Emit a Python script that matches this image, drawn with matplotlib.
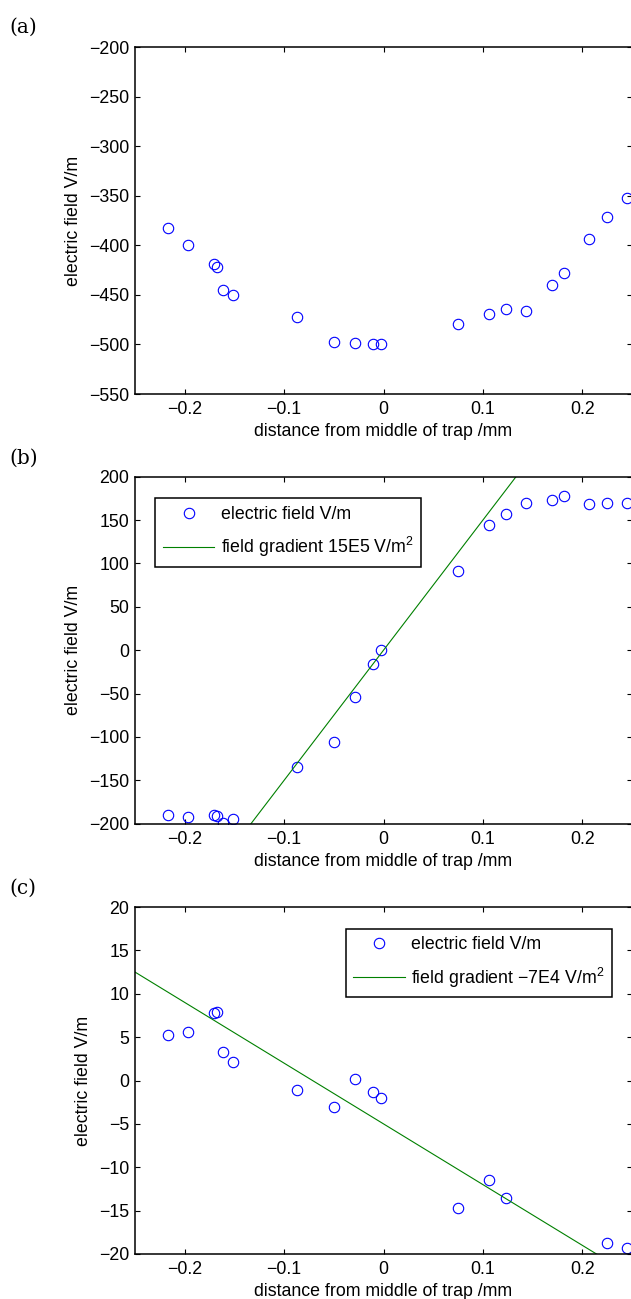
import numpy as np
import matplotlib.pyplot as plt
from matplotlib.ticker import FuncFormatter

plt.rcParams['font.family'] = ['Liberation Sans', 'DejaVu Sans']
plt.rcParams['mathtext.fontset'] = 'custom'
plt.rcParams['mathtext.rm'] = 'Liberation Sans'

# positions of the probe points along the trap (mm)
distance_mm = [-0.2167, -0.1970, -0.1705, -0.1678, -0.1610, -0.1516, -0.0871,
               -0.0500, -0.0286, -0.0103, -0.0022, 0.0748, 0.1060, 0.1234,
               0.1431, 0.1696, 0.1817, 0.2065, 0.2250, 0.2454]

# (a) raw field
field_a = [-382.8, -399.9, -419.0, -421.8, -444.7, -450.4, -472.3, -497.2,
           -498.9, -499.2, -499.2, -479.7, -468.9, -464.6, -465.9, -439.6,
           -428.2, -393.9, -371.3, -352.1]

# (b) field with the offset removed
field_b = [-190.0, -192.3, -189.6, -190.8, -198.8, -194.2, -135.0, -106.2,
           -53.5, -15.4, 0.0, 90.8, 144.2, 157.3, 169.6, 173.5, 177.7, 168.5,
           170.0, 169.6]

# (c) residual field (points below -20 fall outside the plotted range)
field_c = [5.2, 5.6, 7.77, 7.88, 3.27, 2.15, -1.1, -3.1, 0.23, -1.35, -2.04,
           -14.65, -11.42, -13.6, np.nan, np.nan, np.nan, np.nan, -18.73, -19.3]

# straight-line gradients, V/m per mm
slope_b, offset_b = 1500.0, 0.0
slope_c, offset_c = -70.0, -5.0

label_b = 'field gradient 15E5 V/m$^2$'
label_c = 'field gradient \u22127E4 V/m$^2$'

x = np.array(distance_mm)
xfit = np.array([-0.25, 0.25])

FS = 12.8

fig = plt.figure(figsize=(6.31, 12.99), dpi=100)
left, width, height = 135 / 631, 497 / 631, 347 / 1299
bottoms = [905 / 1299, 475.3 / 1299, 45 / 1299]
axes = [fig.add_axes([left, b, width, height]) for b in bottoms]

fmt = FuncFormatter(lambda v, p: ('%g' % v).replace('-', '\u2212'))
ylims = [(-550, -200), (-200, 200), (-20, 20)]
ysteps = [50, 50, 5]

for ax, (y0, y1), step in zip(axes, ylims, ysteps):
    ax.set_xlim(-0.25, 0.25)
    ax.set_ylim(y0, y1)
    ax.set_xticks([-0.2, -0.1, 0, 0.1, 0.2])
    ax.set_yticks(np.arange(y0, y1 + step / 2, step))
    ax.xaxis.set_major_formatter(fmt)
    ax.yaxis.set_major_formatter(fmt)
    ax.tick_params(direction='in', top=True, right=True, length=3.5,
                   width=0.8, labelsize=FS)
    ax.tick_params(axis='x', pad=5)
    ax.tick_params(axis='y', pad=4)
    for s in ax.spines.values():
        s.set_linewidth(1.1)
    ax.set_xlabel('distance from middle of trap /mm', fontsize=FS, labelpad=4)
    ax.set_ylabel('electric field V/m', fontsize=FS, labelpad=5)

mk = dict(linestyle='none', marker='o', markersize=7.5, markerfacecolor='none',
          markeredgecolor='#0000ff', markeredgewidth=0.8)

axes[0].plot(x, field_a, **mk)

axes[1].plot(x, field_b, label='electric field V/m', **mk)
axes[1].plot(xfit, slope_b * xfit + offset_b, color='#008000', lw=0.8, label=label_b)

axes[2].plot(x, field_c, label='electric field V/m', **mk)
axes[2].plot(xfit, slope_c * xfit + offset_c, color='#008000', lw=0.8, label=label_c)

for ax, anchor in [(axes[1], (0.041, 0.9375)), (axes[2], (0.424, 0.9375))]:
    leg = ax.legend(loc='upper left', bbox_to_anchor=anchor, borderaxespad=0,
                    fontsize=FS, handlelength=2.9, handletextpad=0.35,
                    labelspacing=0.7, borderpad=0.42, fancybox=False,
                    framealpha=1, edgecolor='black')
    leg.get_frame().set_linewidth(1.1)

for lab, yc in zip(['(a)', '(b)', '(c)'], [27, 458, 888]):
    fig.text(9 / 631, 1 - yc / 1299, lab, fontsize=14.5, family='DejaVu Serif',
             va='center', ha='left')

fig.savefig('out.png', dpi=100)
